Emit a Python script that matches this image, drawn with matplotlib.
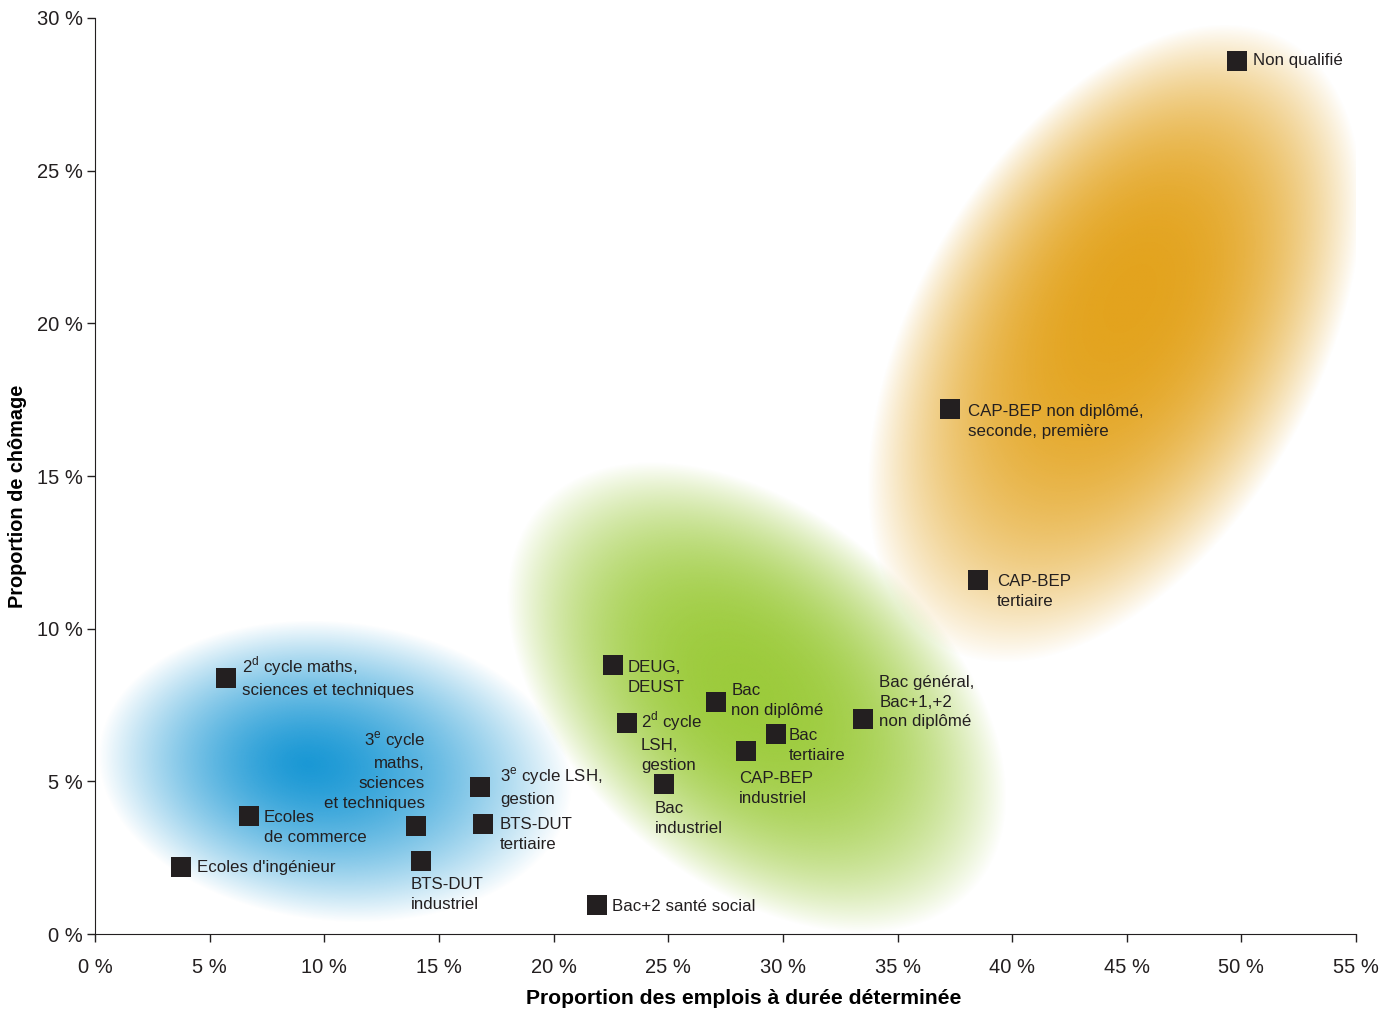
import numpy as np
import matplotlib.pyplot as plt
from matplotlib.colors import to_rgb

plt.rcParams['font.family'] = ['Liberation Sans', 'DejaVu Sans']

# Diplomas: share of fixed-term jobs (x, %) vs unemployment share (y, %)
labels = [
    'Non qualifié',
    'CAP-BEP non diplômé,\nseconde, première',
    'CAP-BEP\ntertiaire',
    'Bac général,\nBac+1,+2\nnon diplômé',
    'Bac\nnon diplômé',
    'Bac\ntertiaire',
    'CAP-BEP\nindustriel',
    '2$^{\\mathregular{d}}$ cycle\nLSH,\ngestion',
    'DEUG,\nDEUST',
    'Bac\nindustriel',
    'Bac+2 santé social',
    '3$^{\\mathregular{e}}$ cycle LSH,\ngestion',
    'BTS-DUT\ntertiaire',
    'BTS-DUT\nindustriel',
    '3$^{\\mathregular{e}}$ cycle\nmaths,\nsciences\net techniques',
    'Ecoles\nde commerce',
    "Ecoles d'ingénieur",
    '2$^{\\mathregular{d}}$ cycle maths,\nsciences et techniques',
]
cdd = [49.8, 37.3, 38.5, 33.5, 27.1, 29.7, 28.4, 23.2, 22.6, 24.8,
       21.9, 16.8, 16.9, 14.2, 14.0, 6.7, 3.75, 5.7]
chomage = [28.6, 17.2, 11.6, 7.05, 7.6, 6.55, 6.0, 6.9, 8.8, 4.9,
           0.95, 4.8, 3.6, 2.4, 3.55, 3.85, 2.2, 8.4]

# label placement: (dx px, dy px of first line centre, screen y down, ha)
label_pos = [
    (16, -1, 'left'), (18, 2, 'left'), (19, 1, 'left'), (16, -37, 'left'),
    (15, -12, 'left'), (13, 1, 'left'), (-7, 27, 'left'), (14, -7, 'left'),
    (14, 2, 'left'), (-9, 24, 'left'), (15, 1, 'left'), (20, -15, 'left'),
    (17, 0, 'left'), (-10, 23, 'left'), (9, -89, 'right'), (15, 1, 'left'),
    (16, 0, 'left'), (16, -16, 'left'),
]

xticks = np.arange(0, 56, 5)
yticks = np.arange(0, 31, 5)

fig = plt.figure(figsize=(13.98, 10.10), dpi=100)
ax = fig.add_axes([0.068, 0.0752, 0.902, 0.907])
ax.set_xlim(0, 55)
ax.set_ylim(0, 30)

# soft coloured clouds, pixel space:
# (cx, cy, a, b, angle, focus u, focus v, exponent, colour)
sx = 1261 / 55.0
sy = 916 / 30.0
gx, gy = np.meshgrid(np.linspace(0, 55, 1000), np.linspace(0, 30, 700))
px, py = gx * sx, gy * sy
clouds = [
    (240, 162, 238, 150, -6, -0.12, 0.03, 1.5, '#1a98d5'),
    (662, 236, 290, 184, -41, -0.05, 0.0, 2.5, '#9ccb3b'),
    (1020, 590, 350, 202, 60, 0.15, 0.05, 2.5, '#e3a31d'),
]
for cx, cy, a, b, ang, fu, fv, p, col in clouds:
    t = np.deg2rad(ang)
    dx, dy = px - cx, py - cy
    u = (dx * np.cos(t) + dy * np.sin(t)) / a
    v = (-dx * np.sin(t) + dy * np.cos(t)) / b
    du, dv = u - fu, v - fv
    dd = du ** 2 + dv ** 2 + 1e-12
    fd = fu * du + fv * dv
    s = (-fd + np.sqrt(fd ** 2 - dd * (fu ** 2 + fv ** 2 - 1))) / dd
    r = np.clip(1 / s, 0, 1)
    alpha = np.clip(1 - r ** p, 0, 1)
    img = np.zeros(gx.shape + (4,))
    img[..., :3] = to_rgb(col)
    img[..., 3] = alpha
    ax.imshow(img, extent=[0, 55, 0, 30], origin='lower', aspect='auto',
              interpolation='bilinear', zorder=1)

ax.scatter(cdd, chomage, marker='s', s=15 ** 2, color='#231f20',
           linewidths=0, zorder=3)

for x, y, lab, (dx, dy, ha) in zip(cdd, chomage, labels, label_pos):
    ax.annotate(lab, (x, y), xytext=(dx, 7 - dy), textcoords='offset pixels',
                ha=ha, va='top', fontsize=12.2, color='#231f20',
                linespacing=1.4, multialignment=ha, zorder=4)

ax.set_xticks(xticks)
ax.set_yticks(yticks)
ax.set_xticklabels([f'{t} %' for t in xticks])
ax.set_yticklabels([f'{t} %' for t in yticks])
ax.tick_params(direction='out', length=6, width=1, labelsize=14.5,
               colors='#231f20')
ax.tick_params(axis='x', pad=11)
ax.tick_params(axis='y', pad=3)
for side in ['top', 'right']:
    ax.spines[side].set_visible(False)
for side in ['left', 'bottom']:
    ax.spines[side].set_color('#231f20')
ax.set_xlabel('Proportion des emplois à durée déterminée', fontsize=15.2,
              fontweight='bold')
ax.set_ylabel('Proportion de chômage', fontsize=14.3, fontweight='bold')
ax.xaxis.set_label_coords(0.514, -0.060)
ax.yaxis.set_label_coords(-0.054, 0.478)

fig.savefig('out.png', dpi=100)
